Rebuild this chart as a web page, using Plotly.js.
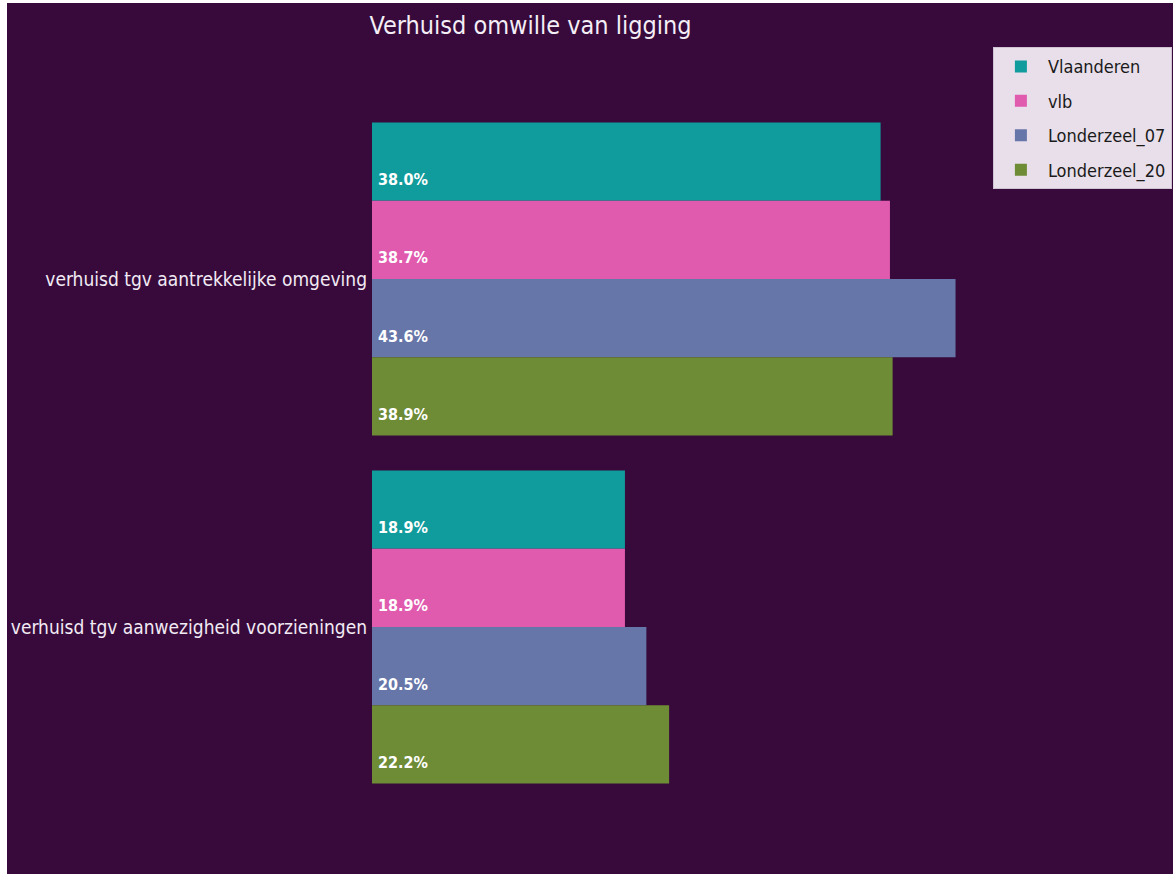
<!DOCTYPE html>
<html>
<head>
<meta charset="utf-8">
<script src="https://cdn.plot.ly/plotly-3.0.1.min.js"></script>
<style>
  html, body { margin: 0; padding: 0; background: #ffffff; width: 1173px; height: 874px; overflow: hidden; }
  #chart { position: absolute; left: 7px; top: 3px; width: 1166px; height: 871px; }
</style>
</head>
<body>
<div id="chart"></div>
<script>
const categories = ["verhuisd tgv aantrekkelijke omgeving", "verhuisd tgv aanwezigheid voorzieningen"];
const seriesNames = ["Vlaanderen", "vlb", "Londerzeel_07", "Londerzeel_20"];
const vlaanderen = [38.0, 18.9];
const vlb = [38.7, 18.9];
const londerzeel07 = [43.6, 20.5];
const londerzeel20 = [38.9, 22.2];
const seriesValues = [vlaanderen, vlb, londerzeel07, londerzeel20];
const colors = ["#109c9c", "#e05aae", "#6676a9", "#6e8b35"];

const FONT = "DejaVu Sans Condensed, DejaVu Sans, sans-serif";
const bargap = 0.1;
const nSeries = seriesValues.length;
const groupWidth = 1 - bargap;
const barWidth = groupWidth / nSeries;

const traces = seriesValues.map((vals, j) => ({
  type: "bar",
  orientation: "h",
  name: seriesNames[j],
  legendgroup: "g" + j,
  y: categories,
  x: vals,
  marker: { color: colors[j], line: { width: 0 } },
  hoverinfo: "x+name"
}));

const annotations = [];
seriesValues.forEach((vals, j) => {
  vals.forEach((v, i) => {
    annotations.push({
      x: 0, xref: "x", xanchor: "left", xshift: 4,
      y: i - groupWidth / 2 + barWidth * (j + 0.5), yref: "y", yanchor: "middle", yshift: -18,
      text: "<b>" + v.toFixed(1) + "%</b>",
      showarrow: false,
      font: { family: FONT, size: 16, color: "#ffffff" }
    });
  });
});

const layout = {
  width: 1166, height: 871,
  paper_bgcolor: "#370a3b",
  plot_bgcolor: "#370a3b",
  margin: { l: 365, r: 6, t: 102, b: 73, autoexpand: false },
  barmode: "group",
  bargap: bargap,
  bargroupgap: 0,
  title: {
    text: "Verhuisd omwille van ligging",
    font: { family: FONT, size: 25, color: "#f4eef6" },
    x: 0.449, xref: "container", xanchor: "center",
    y: 0.985, yref: "container", yanchor: "top"
  },
  xaxis: {
    range: [0, 59.4], automargin: false,
    showgrid: false, zeroline: false, showticklabels: false, ticks: "", showline: false
  },
  yaxis: {
    type: "category", automargin: false,
    range: [1.5, -0.5],
    showgrid: false, zeroline: false, showline: false,
    ticks: "", ticklen: 0, ticklabelstandoff: 4,
    tickfont: { family: FONT, size: 19, color: "#f2eaf4" }
  },
  showlegend: true,
  legend: {
    x: 0.781, xanchor: "left", y: 1.083, yanchor: "top",
    bgcolor: "#e8dfea", bordercolor: "#cfc3d3", borderwidth: 1,
    font: { family: FONT, size: 18, color: "#1a1a1a" },
    tracegroupgap: 8, itemwidth: 44
  },
  annotations: annotations
};

Plotly.newPlot("chart", traces, layout, { displayModeBar: false, staticPlot: true });
</script>
</body>
</html>
